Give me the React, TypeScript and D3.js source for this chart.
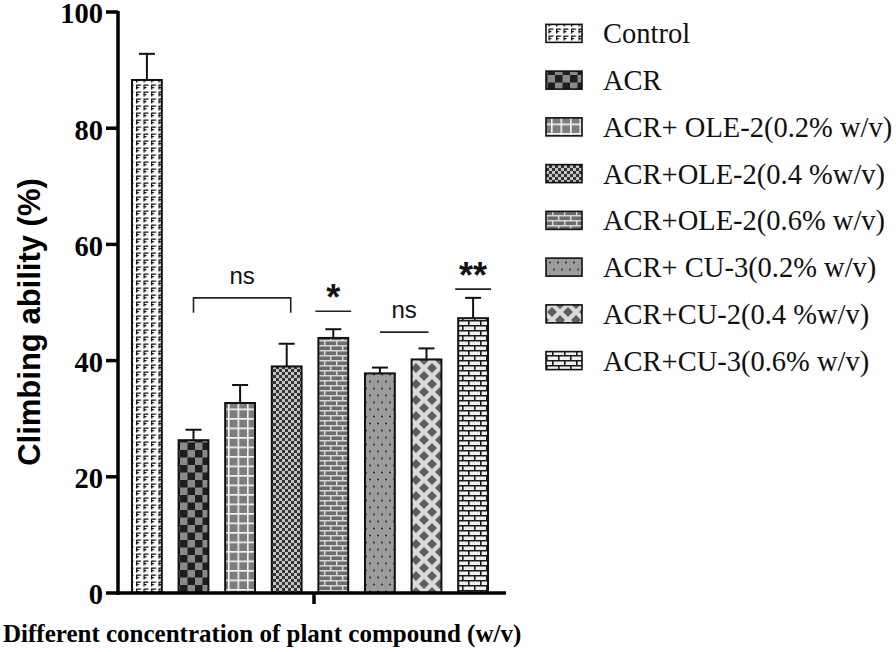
import React from 'react';
import * as d3 from 'd3';

const categories = [
  'Control',
  'ACR',
  'ACR+ OLE-2(0.2% w/v)',
  'ACR+OLE-2(0.4 %w/v)',
  'ACR+OLE-2(0.6% w/v)',
  'ACR+ CU-3(0.2% w/v)',
  'ACR+CU-2(0.4 %w/v)',
  'ACR+CU-3(0.6% w/v)',
];
const means = [88.3, 26.3, 32.7, 39.0, 43.9, 37.8, 40.2, 47.3];
const errors = [4.5, 1.8, 3.1, 3.9, 1.5, 1.0, 1.9, 3.5];
const yTicks = [0, 20, 40, 60, 80, 100];
const patternIds = ['pControl', 'pACR', 'pOle02', 'pOle04', 'pOle06', 'pCu02', 'pCu04', 'pCu06'];

const annotationLabels = ['ns', '*', 'ns', '**'];
const annotationFrom = [1, 4, 5, 7];
const annotationTo = [3, 4, 6, 7];
const annotationLevel = [50.8, 48.5, 44.9, 52.3];
const annotationBracket = [true, false, false, false];

const yTitle = 'Climbing ability (%)';
const xTitle = 'Different concentration of plant compound (w/v)';

function Patterns() {
  return (
    <defs>
      <pattern id="pControl" patternUnits="userSpaceOnUse" width="7.5" height="7">
        <rect width="7.5" height="7" fill="#fff" />
        <path d="M1,1.2 H6 M1.6,1 V5.5 M1.6,3.6 H4" stroke="#111" strokeWidth="1.3" fill="none" />
      </pattern>
      <pattern id="pACR" patternUnits="userSpaceOnUse" width="15" height="15">
        <rect width="15" height="15" fill="#8a8a8a" />
        <rect x="0" y="0" width="7.5" height="7.5" fill="#1e1e1e" />
        <rect x="7.5" y="7.5" width="7.5" height="7.5" fill="#1e1e1e" />
      </pattern>
      <pattern id="pOle02" patternUnits="userSpaceOnUse" width="9.5" height="9.5">
        <rect width="9.5" height="9.5" fill="#7c7c7c" />
        <path d="M0,0.8 H9.5 M0.8,0 V9.5" stroke="#f4f4f4" strokeWidth="1.6" fill="none" />
      </pattern>
      <pattern id="pOle04" patternUnits="userSpaceOnUse" width="6" height="6">
        <rect width="6" height="6" fill="#c4c4c4" />
        <rect x="0" y="0" width="3" height="3" fill="#333" />
        <rect x="3" y="3" width="3" height="3" fill="#333" />
      </pattern>
      <pattern id="pOle06" patternUnits="userSpaceOnUse" width="12" height="10">
        <rect width="12" height="10" fill="#6c6c6c" />
        <path d="M0,0.7 H12 M0,5.7 H12 M0.7,0 V5 M6.7,5 V10" stroke="#d8d8d8" strokeWidth="1.5" fill="none" />
      </pattern>
      <pattern id="pCu02" patternUnits="userSpaceOnUse" width="8" height="14">
        <rect width="8" height="14" fill="#9c9c9c" />
        <circle cx="2" cy="3.5" r="1" fill="#2a2a2a" />
        <circle cx="6" cy="10.5" r="1" fill="#2a2a2a" />
      </pattern>
      <pattern id="pCu04" patternUnits="userSpaceOnUse" width="16" height="16">
        <rect width="16" height="16" fill="#dadada" />
        <path d="M8,3 L13,8 L8,13 L3,8 Z" fill="#5e5e5e" />
        <path d="M0,-5 L5,0 L0,5 L-5,0 Z M16,-5 L21,0 L16,5 L11,0 Z M0,11 L5,16 L0,21 L-5,16 Z M16,11 L21,16 L16,21 L11,16 Z" fill="#5e5e5e" />
      </pattern>
      <pattern id="pCu06" patternUnits="userSpaceOnUse" width="12" height="10">
        <rect width="12" height="10" fill="#f0f0f0" />
        <path d="M0,0.8 H12 M0,5.8 H12 M0.8,0 V5 M6.8,5 V10" stroke="#1a1a1a" strokeWidth="1.6" fill="none" />
      </pattern>
    </defs>
  );
}

export default function App() {
  const W = 896;
  const H = 652;
  const x = d3
    .scaleBand<number>()
    .domain(d3.range(categories.length))
    .range([118, 502])
    .paddingInner(0.36)
    .paddingOuter(0.3);
  const y = d3.scaleLinear().domain([0, 100]).range([593, 12]);
  const bw = x.bandwidth();
  const axisLeft = 118;
  const axisRight = 506;
  const axisMid = (axisLeft + axisRight) / 2 + 2;

  const legendY = d3
    .scaleBand<number>()
    .domain(d3.range(categories.length))
    .range([10, 384]);

  return (
    <svg
      width={W}
      height={H}
      style={{ position: 'absolute', left: 0, top: 0, background: '#fff' }}
    >
      <Patterns />
      <rect width={W} height={H} fill="#fff" />

      {/* bars */}
      {means.map((m, i) => {
        const cx = (x(i) as number) + bw / 2;
        return (
          <g key={i}>
            <line x1={cx} x2={cx} y1={y(m)} y2={y(m + errors[i])} stroke="#111" strokeWidth={2} />
            <line x1={cx - 8} x2={cx + 8} y1={y(m + errors[i])} y2={y(m + errors[i])} stroke="#111" strokeWidth={2} />
            <rect
              x={x(i)}
              y={y(m)}
              width={bw}
              height={y(0) - y(m)}
              fill={`url(#${patternIds[i]})`}
              stroke="#111"
              strokeWidth={2}
            />
          </g>
        );
      })}

      {/* annotations */}
      {annotationLabels.map((lab, k) => {
        const a = annotationFrom[k];
        const b = annotationTo[k];
        const ly = y(annotationLevel[k]);
        let x1: number, x2: number;
        if (a === b) {
          x1 = (x(a) as number) - 3;
          x2 = (x(b) as number) + bw + 3;
        } else {
          x1 = (x(a) as number) + bw / 2;
          x2 = (x(b) as number) + bw / 2 + (annotationBracket[k] ? 4 : 2);
        }
        const isStar = lab.includes('*');
        return (
          <g key={k}>
            {annotationBracket[k] ? (
              <path
                d={`M${x1},${ly + 15} V${ly} H${x2} V${ly + 15}`}
                fill="none"
                stroke="#222"
                strokeWidth={1.6}
              />
            ) : (
              <line x1={x1} x2={x2} y1={ly} y2={ly} stroke="#222" strokeWidth={1.6} />
            )}
            <text
              x={(x1 + x2) / 2}
              y={isStar ? ly - 1 : ly - 14}
              textAnchor="middle"
              fontFamily="Liberation Sans, Arial, sans-serif"
              fontSize={isStar ? 36 : 24}
              fontWeight={isStar ? 'bold' : 'normal'}
              fill="#111"
            >
              {lab}
            </text>
          </g>
        );
      })}

      {/* axes */}
      <line x1={axisLeft} x2={axisLeft} y1={y(100) - 1} y2={y(0) + 1.75} stroke="#000" strokeWidth={3.5} />
      <line x1={axisLeft - 1.75} x2={axisRight} y1={y(0)} y2={y(0)} stroke="#000" strokeWidth={3.5} />
      <line x1={axisMid} x2={axisMid} y1={y(0)} y2={y(0) + 11} stroke="#000" strokeWidth={3.5} />
      {yTicks.map((t) => (
        <g key={t}>
          <line x1={axisLeft - 12} x2={axisLeft} y1={y(t)} y2={y(t)} stroke="#000" strokeWidth={3.5} />
          <text
            x={axisLeft - 15}
            y={y(t) + 1.5}
            dy="0.35em"
            textAnchor="end"
            fontFamily="Liberation Serif, Times New Roman, serif"
            fontWeight="bold"
            fontSize={28.5}
            fill="#000"
          >
            {t}
          </text>
        </g>
      ))}

      <text
        transform={`translate(40, 322) rotate(-90)`}
        textAnchor="middle"
        fontFamily="Liberation Sans, Arial, sans-serif"
        fontWeight="bold"
        fontSize={31}
        fill="#000"
      >
        {yTitle}
      </text>
      <text
        x={3}
        y={642}
        fontFamily="Liberation Serif, Times New Roman, serif"
        fontWeight="bold"
        fontSize={25}
        fill="#000"
      >
        {xTitle}
      </text>

      {/* legend */}
      {categories.map((c, i) => {
        const cy = (legendY(i) as number) + legendY.bandwidth() / 2;
        return (
          <g key={c}>
            <rect
              x={546}
              y={cy - 9}
              width={36}
              height={18}
              fill={`url(#${patternIds[i]})`}
              stroke="#111"
              strokeWidth={1.6}
            />
            <text
              x={603}
              y={cy}
              dy="0.35em"
              fontFamily="Liberation Serif, Times New Roman, serif"
              fontSize={28.5}
              fill="#111"
            >
              {c}
            </text>
          </g>
        );
      })}
    </svg>
  );
}
